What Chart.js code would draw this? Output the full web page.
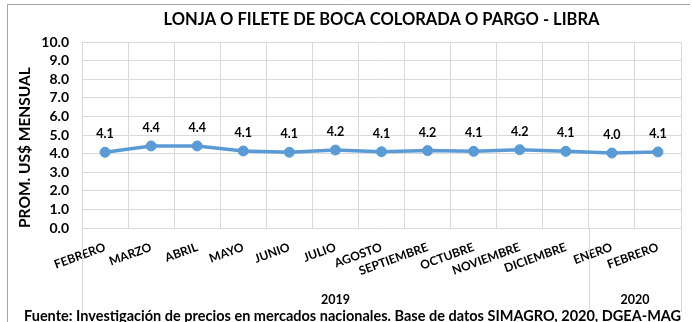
<!DOCTYPE html>
<html lang="es">
<head>
<meta charset="utf-8">
<title>Lonja o filete de boca colorada o pargo - libra</title>
<script src="https://cdn.jsdelivr.net/npm/chart.js@4.4.1/dist/chart.umd.min.js"></script>
<style>
  html, body { margin: 0; padding: 0; background: #ffffff; }
  #grafico { display: block; }
</style>
</head>
<body>
<canvas id="grafico" width="692" height="322"></canvas>
<script>
// Precio promedio mensual (US$ por libra)
const meses = ['FEBRERO', 'MARZO', 'ABRIL', 'MAYO', 'JUNIO', 'JULIO', 'AGOSTO',
  'SEPTIEMBRE', 'OCTUBRE', 'NOVIEMBRE', 'DICIEMBRE', 'ENERO', 'FEBRERO'];
const precios = [4.07, 4.41, 4.41, 4.14, 4.07, 4.19, 4.10, 4.16, 4.12, 4.21, 4.12, 4.03, 4.09];

// Agrupación de los meses por año
const anios = ['2019', '2020'];
const primerMesDelAnio = [0, 11];

const titulo = 'LONJA O FILETE DE BOCA COLORADA O PARGO - LIBRA';
const tituloEjeY = 'PROM. US$ MENSUAL';
const fuente = 'Fuente: Investigación de precios en mercados nacionales. Base de datos SIMAGRO, 2020, DGEA-MAG';

const FAMILIA = 'Lato, "Liberation Sans", Arial, sans-serif';
const AZUL = '#5b9bd5';
const REJILLA = '#d9d9d9';
const TEXTO = '#000000';

// Marco, título, etiquetas de valor, años y nota de fuente
const decoraciones = {
  id: 'decoraciones',
  beforeDraw(chart) {
    const ctx = chart.ctx;
    ctx.save();
    ctx.fillStyle = '#ffffff';
    ctx.fillRect(0, 0, chart.width, chart.height);
    ctx.strokeStyle = '#a6a6a6';
    ctx.lineWidth = 1;
    ctx.beginPath();
    ctx.moveTo(7.5, chart.height);
    ctx.lineTo(7.5, 4.5);
    ctx.lineTo(690, 4.5);
    ctx.stroke();
    ctx.restore();
  },
  afterDraw(chart) {
    const ctx = chart.ctx;
    const area = chart.chartArea;
    const x = chart.scales.x;
    ctx.save();

    // líneas que separan los años bajo el eje
    const fondo = 312;
    const bordes = [area.left, area.right];
    primerMesDelAnio.slice(1).forEach(i => {
      bordes.push((x.getPixelForValue(i - 1) + x.getPixelForValue(i)) / 2);
    });
    ctx.strokeStyle = REJILLA;
    ctx.lineWidth = 1;
    bordes.forEach(b => {
      const px = Math.round(b) + 0.5;
      ctx.beginPath();
      ctx.moveTo(px, area.bottom);
      ctx.lineTo(px, fondo);
      ctx.stroke();
    });

    // años centrados en su grupo de meses
    ctx.fillStyle = TEXTO;
    ctx.font = 'bold 12.5px ' + FAMILIA;
    ctx.textAlign = 'center';
    ctx.textBaseline = 'middle';
    anios.forEach((anio, k) => {
      const desde = primerMesDelAnio[k];
      const hasta = k + 1 < primerMesDelAnio.length ? primerMesDelAnio[k + 1] - 1 : meses.length - 1;
      const izq = desde === 0 ? area.left : (x.getPixelForValue(desde - 1) + x.getPixelForValue(desde)) / 2;
      const der = hasta === meses.length - 1 ? area.right : (x.getPixelForValue(hasta) + x.getPixelForValue(hasta + 1)) / 2;
      ctx.fillText(anio, (izq + der) / 2, 300);
    });

    // etiquetas de valor sobre cada punto
    const meta = chart.getDatasetMeta(0);
    ctx.font = 'bold 12.5px ' + FAMILIA;
    meta.data.forEach((p, i) => {
      ctx.fillText(precios[i].toFixed(1), p.x, p.y - 18);
    });

    // título centrado sobre el área de trazado
    ctx.font = 'bold 16.5px ' + FAMILIA;
    ctx.fillText(titulo, (area.left + area.right) / 2, 20);

    // nota de fuente
    ctx.font = 'bold 14.5px ' + FAMILIA;
    ctx.textAlign = 'left';
    ctx.textBaseline = 'alphabetic';
    ctx.fillText(fuente, 24, 321);

    ctx.restore();
  }
};

new Chart(document.getElementById('grafico'), {
  type: 'line',
  data: {
    labels: meses,
    datasets: [{
      data: precios,
      borderColor: AZUL,
      backgroundColor: AZUL,
      borderWidth: 3.5,
      pointRadius: 5,
      pointBorderWidth: 1,
      pointBackgroundColor: AZUL,
      pointBorderColor: AZUL,
      tension: 0,
      fill: false
    }]
  },
  options: {
    responsive: false,
    animation: false,
    events: [],
    layout: { padding: { top: 42, right: 11, bottom: 0, left: 0 } },
    plugins: {
      legend: { display: false },
      title: { display: false },
      tooltip: { enabled: false }
    },
    scales: {
      x: {
        offset: true,
        grid: { offset: true, color: REJILLA, lineWidth: 1, drawTicks: false },
        border: { display: false },
        ticks: {
          autoSkip: false,
          minRotation: 20,
          maxRotation: 20,
          padding: 12,
          color: TEXTO,
          font: { family: FAMILIA, size: 12, weight: 'bold' }
        },
        afterFit(scale) { scale.height = 94; }
      },
      y: {
        min: 0,
        max: 10,
        grid: { color: REJILLA, lineWidth: 1, drawTicks: false },
        border: { display: false },
        ticks: {
          autoSkip: false,
          stepSize: 1,
          padding: 13,
          color: TEXTO,
          font: { family: FAMILIA, size: 14, weight: 'bold' },
          callback: v => v.toFixed(1)
        },
        title: {
          display: true,
          text: tituloEjeY,
          align: 'start',
          color: TEXTO,
          font: { family: FAMILIA, size: 15.5, weight: 'bold' },
          padding: { top: 16, bottom: 0 }
        },
        afterFit(scale) { scale.width = 82; }
      }
    }
  },
  plugins: [decoraciones]
});
</script>
</body>
</html>
